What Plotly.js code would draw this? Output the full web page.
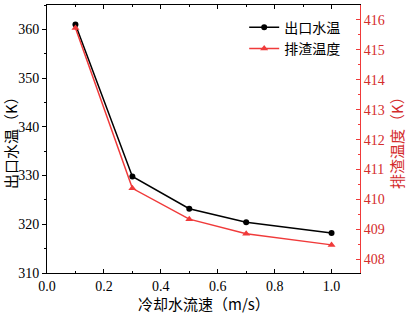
<!DOCTYPE html>
<html><head><meta charset="utf-8">
<script src="https://cdn.plot.ly/plotly-3.0.1.min.js"></script>
<style>html,body{margin:0;padding:0;background:#fff}#c{width:406px;height:316px}</style>
</head><body><div id="c"></div>
<script>
const flowSpeed = [0.1, 0.3, 0.5, 0.7, 1.0];
const outletWaterTemp = [361.0, 329.8, 323.2, 320.4, 318.2];
const slagTemp = [415.73, 410.37, 409.34, 408.85, 408.48];
const seriesNames = ['出口水温', '排渣温度'];
const xTitle = '冷却水流速（m/s）';
const yTitle = '出口水温（K）';
const y2Title = '排渣温度（K）';

const numFont = 'Liberation Serif, Times New Roman, serif';
const cjkFont = 'Noto Sans CJK SC, Liberation Serif, serif';
const red = '#f03a3a';
const redText = '#d42c2c';

const traces = [
  {x: flowSpeed, y: outletWaterTemp, name: seriesNames[0], type: 'scatter', mode: 'lines+markers',
   line: {color: '#000', width: 1.5}, marker: {symbol: 'circle', size: 6, color: '#000'}},
  {x: flowSpeed, y: slagTemp, name: seriesNames[1], type: 'scatter', mode: 'lines+markers', yaxis: 'y2',
   line: {color: red, width: 1.5}, marker: {symbol: 'triangle-up', size: 7, color: red}}
];

const layout = {
  width: 406, height: 316,
  margin: {l: 47, r: 46, t: 5, b: 43},
  paper_bgcolor: '#fff', plot_bgcolor: '#fff',
  showlegend: true,
  legend: {x: 0.63, y: 0.975, xanchor: 'left', yanchor: 'top', bgcolor: 'rgba(0,0,0,0)',
           font: {family: cjkFont, size: 14, color: '#000'}, tracegroupgap: 0, itemwidth: 30},
  xaxis: {range: [0, 1.1], dtick: 0.2, tick0: 0, tickformat: '.1f', showgrid: false, zeroline: false,
          showline: true, linecolor: '#000', linewidth: 1, mirror: 'ticks', ticks: 'inside', ticklen: 4,
          tickcolor: '#000', minor: {dtick: 0.1, ticks: 'inside', ticklen: 2, tickcolor: '#000'},
          tickfont: {family: numFont, size: 14, color: '#000'}},
  yaxis: {range: [310, 365], dtick: 10, showgrid: false, zeroline: false,
          showline: true, linecolor: '#000', linewidth: 1, ticks: 'outside', ticklen: 4, tickcolor: '#000',
          minor: {dtick: 5, ticks: 'outside', ticklen: 2, tickcolor: '#000'},
          tickfont: {family: numFont, size: 14, color: '#000'}},
  yaxis2: {range: [407.54, 416.5], dtick: 1, overlaying: 'y', side: 'right', showgrid: false, zeroline: false,
          showline: true, linecolor: red, linewidth: 1, ticks: 'inside', ticklen: 4, tickcolor: red,
          minor: {dtick: 0.5, ticks: 'inside', ticklen: 2, tickcolor: red},
          tickfont: {family: numFont, size: 14, color: redText}},
  annotations: [
    {text: xTitle, xref: 'paper', yref: 'paper', x: 0.5, y: 0, yshift: -30, xanchor: 'center', yanchor: 'middle',
     showarrow: false, font: {family: cjkFont, size: 15, color: '#000'}},
    {text: yTitle, xref: 'paper', yref: 'paper', x: 0, y: 0.5, xshift: -37, textangle: -90, xanchor: 'center', yanchor: 'middle',
     showarrow: false, font: {family: cjkFont, size: 15, color: '#000'}},
    {text: y2Title, xref: 'paper', yref: 'paper', x: 1, y: 0.5, xshift: 36, textangle: -90, xanchor: 'center', yanchor: 'middle',
     showarrow: false, font: {family: cjkFont, size: 15, color: redText}}
  ]
};

Plotly.newPlot('c', traces, layout, {displayModeBar: false, staticPlot: true});
</script>
</body></html>
